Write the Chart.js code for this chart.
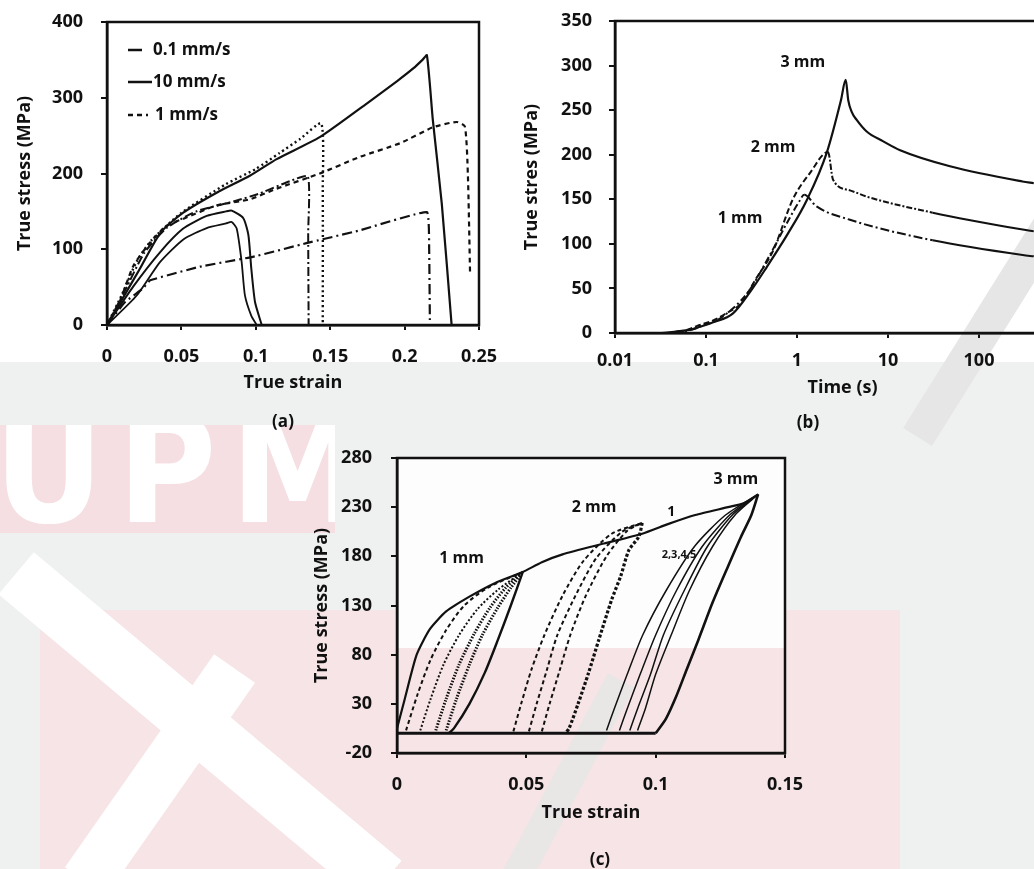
<!DOCTYPE html>
<html>
<head>
<meta charset="utf-8">
<script src="https://cdn.jsdelivr.net/npm/chart.js@4.4.1/dist/chart.umd.min.js"></script>
<style>
  body { margin: 0; width: 1034px; height: 869px; overflow: hidden; position: relative; background: #eff0f0; font-family: 'Open Sans', sans-serif; }
  .wm { position: absolute; }
  canvas { position: absolute; }
  .cap { position: absolute; font-weight: bold; font-size: 17px; color: #111; transform: translate(-50%, -50%); }
</style>
</head>
<body>
<!-- watermark-ish background -->
<div class="wm" style="left:0;top:0;width:1034px;height:362px;background:#fff"></div>
<div class="wm" style="left:0;top:425px;width:335px;height:108px;background:#f5dfe2;overflow:hidden">
  <div style="position:absolute;left:-6px;top:-30px;font:bold 150px 'DejaVu Sans Condensed',sans-serif;color:#fff;letter-spacing:14px;line-height:1">UPM</div>
</div>
<div class="wm" style="left:40px;top:610px;width:860px;height:259px;background:#f7e4e6"></div>
<div class="wm" style="left:-40px;top:700px;width:480px;height:55px;background:#fff;transform:rotate(40deg)"></div>
<div class="wm" style="left:30px;top:750px;width:260px;height:50px;background:#fff;transform:rotate(-55deg)"></div>
<div class="wm" style="left:397px;top:458px;width:388px;height:190px;background:#fdfdfd"></div>
<div class="wm" style="left:840px;top:280px;width:330px;height:34px;background:#e6e6e6;transform:rotate(-58deg)"></div>
<div class="wm" style="left:430px;top:780px;width:260px;height:30px;background:#e9e6e6;transform:rotate(-62deg)"></div>

<canvas id="chartA" width="500" height="440" style="left:0;top:0"></canvas>
<canvas id="chartB" width="640" height="440" style="left:500px;top:0"></canvas>
<canvas id="chartC" width="530" height="429" style="left:300px;top:440px"></canvas>

<div class="cap" style="left:283px;top:420px">(a)</div>
<div class="cap" style="left:808px;top:421px">(b)</div>
<div class="cap" style="left:600px;top:858px">(c)</div>

<script>
// ---------- (a) true stress vs true strain at three rates ----------
const strainTicksA = [0, 0.05, 0.1, 0.15, 0.2, 0.25];
const stressTicksA = [0, 100, 200, 300, 400];
const rate10 = [[0,0],[0.009,30],[0.022,74],[0.036,122],[0.051,148],[0.074,175],[0.096,197],[0.114,219],[0.143,248],[0.175,293],[0.195,322],[0.206,339],[0.212,350],[0.215,356],[0.219,270],[0.225,160],[0.2316,0]];
const rate10Short = [[0,0],[0.0177,51],[0.0356,96],[0.051,127],[0.067,144],[0.08,150],[0.0838,151],[0.0916,141],[0.095,119],[0.097,74],[0.0995,30],[0.104,0]];
const rate10Short2 = [[0,0],[0.02,39],[0.0356,83],[0.0513,113],[0.067,128],[0.08,134],[0.0838,136],[0.0872,127],[0.0905,83],[0.0927,39],[0.097,12],[0.1006,0]];
const rate1 = [[0,0],[0.008,28],[0.0177,78],[0.029,109],[0.04,131],[0.051,140],[0.074,158],[0.096,166],[0.114,180],[0.143,200],[0.17,222],[0.197,240],[0.219,261],[0.235,268],[0.2405,262],[0.2425,200],[0.244,68]];
const rate1Short = [[0,0],[0.01,40],[0.02,84],[0.03,112],[0.05,148],[0.08,186],[0.1,206],[0.116,227],[0.13,246],[0.144,266],[0.145,180],[0.145,0]];
const rate1Short2 = [[0,0],[0.012,45],[0.025,95],[0.04,128],[0.06,150],[0.085,163],[0.103,174],[0.123,190],[0.135,196],[0.1352,120],[0.1355,0]];
const rate01 = [[0,0],[0.012,30],[0.024,48],[0.029,59],[0.0625,77],[0.098,90],[0.134,108],[0.17,125],[0.215,149],[0.2165,100],[0.217,0]];
const legendA = ['0.1 mm/s', '10 mm/s', '1 mm/s'];

// ---------- (b) stress relaxation vs time ----------
const timeTicksB = [0.01, 0.1, 1, 10, 100, 1000];
const stressTicksB = [0, 50, 100, 150, 200, 250, 300, 350];
const relax3mm = [[0.01,0],[0.03,0],[0.05,2],[0.07,4],[0.086,7],[0.12,12],[0.198,22],[0.3,45],[0.465,74],[0.8,112],[1.28,149],[2.12,202],[3.04,261],[3.43,284],[3.66,261],[3.99,248],[4.53,239],[5.83,226],[8.87,215],[13.6,205],[48,187],[300,170],[400,168]];
const relax2mm = [[0.01,0],[0.04,0],[0.06,3],[0.08,8],[0.12,14],[0.18,24],[0.237,32],[0.35,60],[0.55,93],[0.9,150],[1.4,180],[2.19,203],[2.49,172],[3.82,160],[5.83,153],[31,135],[302,116],[400,114]];
const relax1mm = [[0.01,0],[0.05,0],[0.07,4],[0.09,8],[0.13,14],[0.2,28],[0.3,48],[0.5,87],[0.8,126],[1.05,147],[1.2,155],[1.64,142],[3.82,127],[31,104],[302,87.5],[400,86]];
const notesB = [['3 mm', 1.16, 303, 16], ['2 mm', 0.545, 208, 16], ['1 mm', 0.237, 129, 16]];

// ---------- (c) cyclic loading ----------
const strainTicksC = [0, 0.05, 0.1, 0.15];
const stressTicksC = [-20, 30, 80, 130, 180, 230, 280];
const envelope = [[0,5],[0.003,35],[0.0076,80],[0.0127,106],[0.019,124],[0.028,139],[0.038,153],[0.0486,164],[0.056,174],[0.064,182],[0.08,193],[0.0948,203],[0.105,213],[0.1153,222],[0.128,230],[0.134,234],[0.1396,243]];
const cyc1Dash = [[0.0035,3],[0.008,40],[0.013,75],[0.019,105],[0.026,130],[0.035,148],[0.0486,164]];
const cyc1Dot = [[0.009,3],[0.013,35],[0.018,70],[0.024,100],[0.031,126],[0.039,146],[0.0486,164]];
const cyc1Fine = [[0.015,3],[0.019,35],[0.024,70],[0.03,102],[0.036,128],[0.042,148],[0.0486,164]];
const cyc1Fine2 = [[0.019,3],[0.023,35],[0.028,70],[0.033,100],[0.039,128],[0.044,148],[0.0486,164]];
const cyc1Unload = [[0.0486,164],[0.044,130],[0.039,95],[0.034,62],[0.028,30],[0.022,5],[0.02,0]];
const cyc2a = [[0.045,2],[0.048,30],[0.052,65],[0.057,100],[0.064,140],[0.072,175],[0.083,203],[0.0948,214]];
const cyc2b = [[0.051,2],[0.054,30],[0.058,65],[0.062,100],[0.069,140],[0.077,178],[0.087,205],[0.0948,214]];
const cyc2c = [[0.056,2],[0.059,30],[0.063,65],[0.067,100],[0.073,140],[0.081,180],[0.089,206],[0.0948,214]];
const cyc2Unload = [[0.0948,214],[0.0935,200],[0.0896,186],[0.0865,160],[0.083,136],[0.078,95],[0.074,61],[0.07,30],[0.0665,5],[0.065,0]];
const cyc3a = [[0.081,3],[0.084,25],[0.089,60],[0.095,100],[0.104,145],[0.115,190],[0.127,222],[0.1396,243]];
const cyc3b = [[0.086,3],[0.089,25],[0.094,60],[0.1,100],[0.108,145],[0.118,190],[0.129,223],[0.1396,243]];
const cyc3c = [[0.09,3],[0.093,25],[0.098,60],[0.103,100],[0.111,145],[0.12,190],[0.13,223],[0.1396,243]];
const cyc3d = [[0.093,3],[0.096,25],[0.1,60],[0.106,100],[0.113,145],[0.122,190],[0.131,223],[0.1396,243]];
const cyc3Unload = [[0.1396,243],[0.137,222],[0.133,200],[0.128,170],[0.122,133],[0.1165,95],[0.112,65],[0.108,38],[0.104,15],[0.1,0]];
const baseline = [[0,0],[0.1,0]];
const notesC = [['3 mm', 0.131, 258, 16], ['2 mm', 0.0762, 230, 16], ['1 mm', 0.025, 178, 16], ['1', 0.106, 225, 14], ['2,3,4,5', 0.109, 181, 11]];

Chart.defaults.font.family = "'Open Sans', sans-serif";
Chart.defaults.font.weight = 'bold';
Chart.defaults.color = '#111';
Chart.defaults.animation = false;

const pts = arr => arr.map(p => ({ x: p[0], y: p[1] }));

function line(arr, dash, width, tension) {
  return {
    data: pts(arr),
    borderColor: '#111',
    borderWidth: width || 2,
    borderDash: dash || [],
    pointRadius: 0,
    tension: tension === undefined ? 0.25 : tension,
    fill: false
  };
}

const frame = {
  id: 'frame',
  afterDraw(chart) {
    const a = chart.chartArea, ctx = chart.ctx;
    ctx.save();
    ctx.strokeStyle = '#111';
    ctx.lineWidth = 2.5;
    ctx.strokeRect(a.left, a.top, a.right - a.left, a.bottom - a.top);
    ctx.restore();
  }
};

function notes(list) {
  return {
    id: 'notes',
    afterDraw(chart) {
      const ctx = chart.ctx;
      ctx.save();
      ctx.fillStyle = '#111';
      ctx.textAlign = 'center';
      ctx.textBaseline = 'middle';
      list.forEach(n => {
        ctx.font = 'bold ' + (n[3] || 14) + "px 'Open Sans', sans-serif";
        ctx.fillText(n[0], chart.scales.x.getPixelForValue(n[1]), chart.scales.y.getPixelForValue(n[2]));
      });
      ctx.restore();
    }
  };
}

function axes(o) {
  return {
    x: {
      type: o.xType || 'linear',
      min: o.xTicks[0], max: o.xTicks[o.xTicks.length - 1],
      afterBuildTicks: ax => { ax.ticks = o.xTicks.map(v => ({ value: v })); },
      afterFit: ax => { ax.height = o.xh; ax.paddingLeft = 0; ax.paddingRight = 0; },
      grid: { drawOnChartArea: false, drawTicks: true, tickLength: 5, color: '#111', lineWidth: 2 },
      border: { display: true, color: '#111', width: 2.5 },
      ticks: { padding: o.xPad, font: { size: 18, weight: 'bold' }, maxRotation: 0, autoSkip: false, callback: v => String(v) },
      title: { display: true, text: o.xTitle, font: { size: 18, weight: 'bold' }, padding: { top: 0, bottom: o.xTitlePad } }
    },
    y: {
      min: o.yTicks[0], max: o.yTicks[o.yTicks.length - 1],
      afterBuildTicks: ax => { ax.ticks = o.yTicks.map(v => ({ value: v })); },
      afterFit: ax => { ax.width = o.yw; ax.paddingTop = 0; ax.paddingBottom = 0; },
      grid: { drawOnChartArea: false, drawTicks: true, tickLength: 6, color: '#111', lineWidth: 2 },
      border: { display: true, color: '#111', width: 2.5 },
      ticks: { padding: o.yPad, font: { size: 18, weight: 'bold' }, autoSkip: false },
      title: { display: true, text: o.yTitle, font: { size: 18, weight: 'bold' }, padding: { top: o.yTitlePad, bottom: 0 } }
    }
  };
}

const baseOpts = {
  responsive: false,
  plugins: { legend: { display: false }, tooltip: { enabled: false } }
};

// legend for (a), drawn inside the plot
const legendPlugin = {
  id: 'legendA',
  afterDraw(chart) {
    const ctx = chart.ctx;
    const rows = [
      { y: 50, x1: 128, x2: 142, dash: [], tx: 153 },
      { y: 82, x1: 128, x2: 152, dash: [], tx: 153 },
      { y: 115, x1: 128, x2: 148, dash: [5, 4], tx: 155 }
    ];
    ctx.save();
    ctx.strokeStyle = '#111';
    ctx.fillStyle = '#111';
    ctx.lineWidth = 2.5;
    ctx.font = "bold 17px 'Open Sans', sans-serif";
    ctx.textBaseline = 'middle';
    rows.forEach((r, i) => {
      ctx.setLineDash(r.dash);
      ctx.beginPath(); ctx.moveTo(r.x1, r.y); ctx.lineTo(r.x2, r.y); ctx.stroke();
      ctx.fillText(legendA[i], r.tx, r.y);
    });
    ctx.restore();
  }
};

new Chart(document.getElementById('chartA'), {
  type: 'line',
  data: {
    datasets: [
      line(rate10, [], 2.2, 0.2),
      line(rate10Short, [], 2, 0.2),
      line(rate10Short2, [], 1.8, 0.2),
      line(rate1, [5, 4], 2.2, 0.2),
      line(rate1Short, [2, 3], 2.4, 0.2),
      line(rate1Short2, [9, 3, 2, 3], 2, 0.2),
      line(rate01, [10, 4, 2, 4], 2.2, 0.1)
    ]
  },
  options: Object.assign({}, baseOpts, {
    layout: { padding: { left: 0, right: 21, top: 22, bottom: 45 } },
    scales: axes({ xTicks: strainTicksA, yTicks: stressTicksA, xh: 70, yw: 107, xPad: 16, yPad: 18,
      xTitle: 'True strain', yTitle: 'True stress (MPa)', xTitlePad: 1, yTitlePad: 14 })
  }),
  plugins: [frame, legendPlugin]
});

const relax3 = line(relax3mm, [], 2.2, 0);
relax3.cubicInterpolationMode = 'monotone';
const relax2 = line(relax2mm, [], 2, 0);
relax2.cubicInterpolationMode = 'monotone';
relax2.segment = { borderDash: c => c.p0.parsed.x >= 2.19 && c.p0.parsed.x < 6 ? [6, 2, 2, 2] : (c.p0.parsed.x < 2.19 ? [6, 3] : []) };
const relax1 = line(relax1mm, [], 2, 0);
relax1.cubicInterpolationMode = 'monotone';
relax1.segment = { borderDash: c => c.p0.parsed.x < 1.2 ? [7, 3, 2, 3] : (c.p0.parsed.x < 4 ? [9, 3, 2, 3] : []) };

new Chart(document.getElementById('chartB'), {
  type: 'line',
  data: { datasets: [relax3, relax2, relax1] },
  options: Object.assign({}, baseOpts, {
    layout: { padding: { left: 0, right: 70, top: 21, bottom: 37 } },
    scales: axes({ xType: 'logarithmic', xTicks: timeTicksB, yTicks: stressTicksB, xh: 70, yw: 115, xPad: 12, yPad: 17,
      xTitle: 'Time (s)', yTitle: 'True stres (MPa)', xTitlePad: 4, yTitlePad: 21 })
  }),
  plugins: [frame, notes(notesB)]
});

new Chart(document.getElementById('chartC'), {
  type: 'line',
  data: {
    datasets: [
      line(baseline, [], 3, 0),
      line(envelope, [], 2.2, 0.2),
      line(cyc1Dash, [4, 3], 2),
      line(cyc1Dot, [2, 2], 2),
      line(cyc1Fine, [1.5, 1.5], 3),
      line(cyc1Fine2, [1.5, 1.5], 3),
      line(cyc1Unload, [], 2.4),
      line(cyc2a, [4, 3], 2),
      line(cyc2b, [4, 3], 2),
      line(cyc2c, [4, 3], 2),
      line(cyc2Unload, [3, 2], 3.2),
      line(cyc3a, [], 1.5),
      line(cyc3b, [], 1.5),
      line(cyc3c, [], 1.5),
      line(cyc3d, [], 1.5),
      line(cyc3Unload, [], 2.6)
    ]
  },
  options: Object.assign({}, baseOpts, {
    layout: { padding: { left: 0, right: 45, top: 18, bottom: 36 } },
    scales: axes({ xTicks: strainTicksC, yTicks: stressTicksC, xh: 80, yw: 97, xPad: 16, yPad: 19,
      xTitle: 'True strain', yTitle: 'True stress (MPa)', xTitlePad: 9, yTitlePad: 11 })
  }),
  plugins: [frame, notes(notesC)]
});
</script>
</body>
</html>
